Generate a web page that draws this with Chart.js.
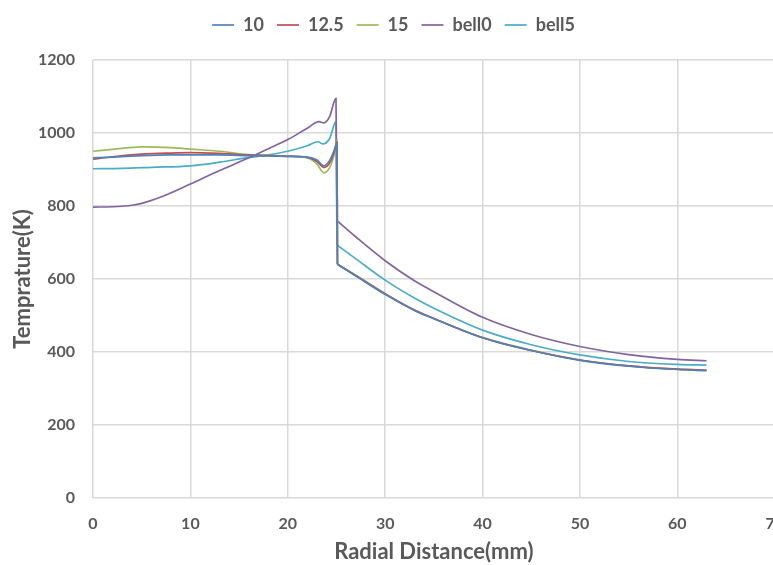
<!DOCTYPE html>
<html>
<head>
<meta charset="utf-8">
<script src="https://cdn.jsdelivr.net/npm/chart.js@4"></script>
<style>
  html, body { margin: 0; padding: 0; background: #fff; overflow: hidden; }
  #wrap { position: relative; width: 800px; height: 565px; }
</style>
</head>
<body>
<div id="wrap"><canvas id="chart"></canvas></div>
<script>
// radial positions (mm) for the three flat-profile cases
const xFlat = [0, 2, 5, 8, 10, 13, 16, 18, 20, 22, 23, 23.7, 24.3, 24.8, 25.05, 25.1, 27, 30, 33, 35, 40, 45, 50, 55, 60, 63];
const t10   = [932, 934, 938, 940, 940, 940, 938, 937, 936, 934, 926, 910, 925, 955, 972, 640, 608, 558, 514, 491, 439, 404, 377, 361, 352, 349];
const t12_5 = [928, 935, 942, 945, 946, 944, 940, 938, 936, 933, 922, 906, 918, 950, 976, 641, 609, 559, 515, 492, 439, 404, 378, 362, 353, 350];
const t15   = [950, 955, 962, 960, 956, 950, 941, 939, 937, 932, 915, 891, 905, 945, 981, 640, 610, 560, 515, 492, 440, 405, 378, 362, 353, 350];

// bell-shaped profiles
const xBell0 = [0, 2, 4, 5, 7.5, 10, 13, 16, 18, 20, 22, 23.2, 23.7, 24.3, 24.95, 25.05, 27, 30, 33, 35, 40, 45, 50, 55, 60, 63];
const tBell0 = [797, 798, 802, 807, 830, 860, 897, 932, 957, 982, 1013, 1031, 1028, 1045, 1095, 760, 715, 650, 595, 565, 495, 448, 415, 393, 380, 376];
const xBell5 = [0, 3, 6, 10, 13, 16, 18, 20, 22, 23.1, 23.6, 24.3, 24.95, 25.05, 27, 30, 33, 35, 40, 45, 50, 55, 60, 63];
const tBell5 = [902, 903, 906, 910, 920, 933, 940, 950, 965, 976, 970, 985, 1031, 693, 655, 597, 548, 520, 460, 420, 392, 374, 366, 364];

const seriesNames = ['10', '12.5', '15', 'bell0', 'bell5'];
const seriesColors = ['#4F81BD', '#C0504D', '#9BBB59', '#8064A2', '#4BACC6'];
const seriesX = [xFlat, xFlat, xFlat, xBell0, xBell5];
const seriesY = [t10, t12_5, t15, tBell0, tBell5];

const xTicks = [0, 10, 20, 30, 40, 50, 60, 70];
const yTicks = [0, 200, 400, 600, 800, 1000, 1200];

const gray = '#595959';
const fam = "Lato, 'Open Sans', sans-serif";

function lineSet(label, color, pts) {
  return {
    label: label,
    data: pts,
    borderColor: color,
    backgroundColor: color,
    borderWidth: 1.7,
    pointRadius: 0,
    cubicInterpolationMode: 'monotone',
    fill: false
  };
}

// each profile is drawn in two pieces: up to the bottom of the step at ~25 mm,
// then the decaying tail, so the smoothing doesn't bend around the step
const heads = [], tails = [];
seriesNames.forEach((name, i) => {
  const ys = seriesY[i];
  const pts = seriesX[i].map((x, k) => ({ x: x, y: ys[k] }));
  const cut = ys.findIndex((y, k) => k > 0 && ys[k - 1] - y > 150);
  heads.push(lineSet(name, seriesColors[i], pts.slice(0, cut + 1)));
  tails.push(lineSet(name, seriesColors[i], pts.slice(cut)));
});

// extra room between the legend and the plot
const legendGap = {
  id: 'legendGap',
  beforeInit(chart) {
    const fit = chart.legend.fit;
    chart.legend.fit = function () {
      fit.bind(chart.legend)();
      this.height += 16;
    };
  }
};

new Chart(document.getElementById('chart'), {
  type: 'line',
  data: { datasets: heads.concat(tails) },
  plugins: [legendGap],
  options: {
    responsive: true,
    maintainAspectRatio: false,
    animation: false,
    layout: { padding: { left: 10, right: 23, top: 3, bottom: 0 } },
    plugins: {
      legend: {
        position: 'top',
        labels: {
          usePointStyle: true,
          pointStyle: 'line',
          pointStyleWidth: 22,
          color: gray,
          padding: 13,
          font: { family: fam, size: 18, weight: 'bold' },
          filter: item => item.datasetIndex < seriesNames.length
        }
      },
      tooltip: { enabled: false }
    },
    scales: {
      x: {
        type: 'linear',
        min: 0,
        max: 70,
        afterBuildTicks: axis => { axis.ticks = xTicks.map(v => ({ value: v })); },
        afterFit: axis => { axis.height = 67; },
        grid: { color: '#d9d9d9', lineWidth: 1.5, drawTicks: false },
        border: { display: false },
        ticks: { color: gray, padding: 16, font: { family: fam, size: 16, weight: 'bold' },
                 callback: v => String(v) },
        title: { display: true, text: 'Radial Distance(mm)', color: gray, padding: { top: 6, bottom: 0 },
                 font: { family: fam, size: 22, weight: 'bold' } }
      },
      y: {
        min: 0,
        max: 1200,
        afterBuildTicks: axis => { axis.ticks = yTicks.map(v => ({ value: v })); },
        afterFit: axis => { axis.width = 83; },
        grid: { color: '#d9d9d9', lineWidth: 1.5, drawTicks: false },
        border: { display: false },
        ticks: { color: gray, padding: 18, font: { family: fam, size: 16, weight: 'bold' },
                 callback: v => String(v) },
        title: { display: true, text: 'Temprature(K)', color: gray, padding: { top: 0, bottom: 3 },
                 font: { family: fam, size: 22, weight: 'bold' } }
      }
    }
  }
});
</script>
</body>
</html>
